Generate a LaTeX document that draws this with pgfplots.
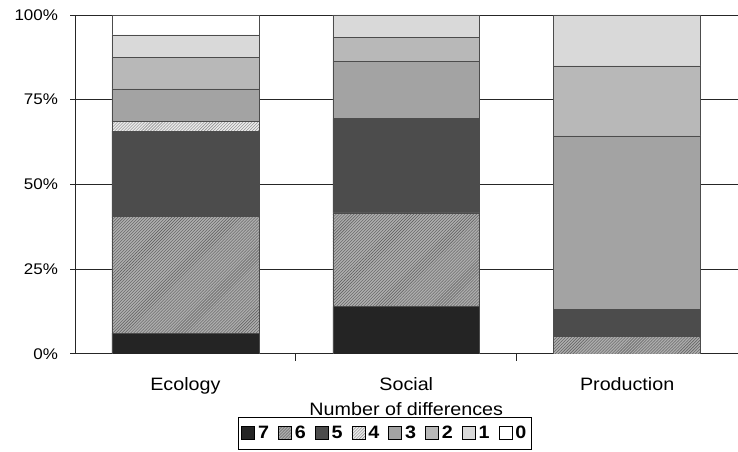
\documentclass[border=0pt]{standalone}
\usepackage{fontspec}
\setmainfont{Liberation Sans}[FakeStretch=1.1]
\usepackage{pgfplots}
\pgfplotsset{compat=1.18}
\usepackage{pgfplotstable}
\usetikzlibrary{patterns}

\pgfplotstableread{
x s7 s6 s5 s4 s3 s2 s1 s0
0 6.1 34.4 25.2 2.9 9.6 9.3 6.6 5.9
1 13.9 27.7 27.9 0 16.9 7.0 6.6 0
2 0 5.1 7.9 0 51.3 20.7 15.0 0
}\datatable

\begin{document}
\begin{tikzpicture}
\begin{axis}[
  scale only axis, width=663bp, height=339bp,
  ybar stacked, bar width=147bp,
  xmin=-0.5, xmax=2.5, ymin=0, ymax=100,
  axis lines=left,
  axis line style={-, black!85, line width=0.8pt},
  tick align=center,
  xtick={0,1,2}, xticklabels={Ecology,Social,Production},
  major x tick style={draw=none},
  extra x ticks={0.5,1.5}, extra x tick labels={},
  extra x tick style={tick align=outside, major tick length=7bp, major x tick style={draw=black!85, line width=0.8pt}},
  ytick={0,25,50,75,100},
  yticklabels={0\%,25\%,50\%,75\%,100\%},
  major tick length=9bp,
  y tick style={black!85, line width=0.8pt},
  ymajorgrids, grid style={black!85, line width=0.7pt},
  yticklabel style={font=\fontsize{15.5}{18}\selectfont, xshift=-9bp},
  xticklabel style={font=\fontsize{18}{20}\selectfont, yshift=-16bp},
  xlabel={Number of differences},
  xlabel style={font=\fontsize{18}{20}\selectfont, yshift=10bp},
  legend columns=-1,
  legend style={at={(0.4676,-0.186)}, anchor=north, draw=black, line width=0.8pt,
    font=\fontsize{18}{20}\selectfont\bfseries, inner xsep=3bp, inner ysep=7bp,
    /tikz/every even column/.append style={column sep=7bp},
    /tikz/every odd column/.append style={column sep=1bp}},
  legend image code/.code={\draw[#1, draw=black, line width=0.8pt] (0bp,-6bp) rectangle (13bp,7bp);},
  every axis plot/.append style={draw=black!70, line width=0.6pt},
]
\addplot[fill=black!86] table[x=x,y=s7] {\datatable};
\addplot[fill=black!32, postaction={pattern=north east lines, pattern color=black!65}] table[x=x,y=s6] {\datatable};
\addplot[fill=black!70] table[x=x,y=s5] {\datatable};
\addplot[fill=black!8, postaction={pattern=north east lines, pattern color=black!50}] table[x=x,y=s4] {\datatable};
\addplot[fill=black!36] table[x=x,y=s3] {\datatable};
\addplot[fill=black!28] table[x=x,y=s2] {\datatable};
\addplot[fill=black!15] table[x=x,y=s1] {\datatable};
\addplot[fill=white] table[x=x,y=s0] {\datatable};
\legend{7,6,5,4,3,2,1,0}
\end{axis}
\path (current axis.south west) ++(-75bp,-98bp) coordinate (bbA);
\path (current axis.north east) ++(0bp,15bp) coordinate (bbB);
\end{tikzpicture}
\end{document}
